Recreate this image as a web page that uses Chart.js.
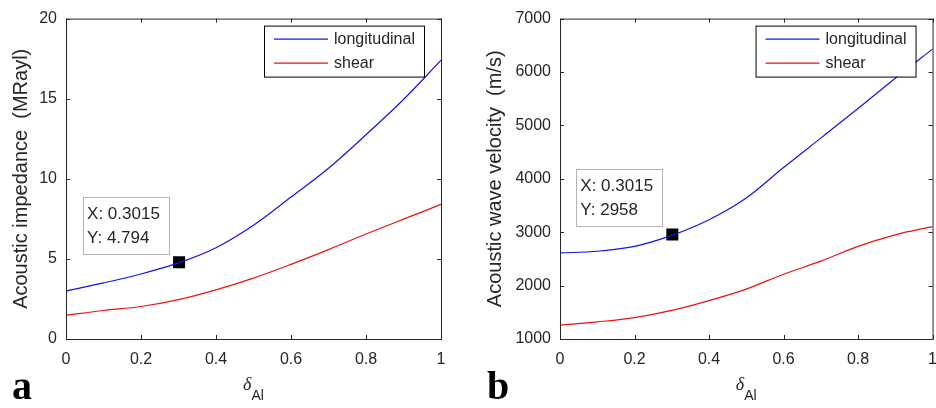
<!DOCTYPE html>
<html>
<head>
<meta charset="utf-8">
<script src="https://cdn.jsdelivr.net/npm/chart.js@4"></script>
<style>
  html, body { margin: 0; padding: 0; background: #fff; }
  body { width: 936px; height: 408px; position: relative; overflow: hidden; }
  canvas { position: absolute; top: 0; }
  .panel { position: absolute; top: 366px; font: bold 40px "Liberation Serif", "Times New Roman", serif; line-height: 40px; color: #000; }
</style>
</head>
<body>
<canvas id="impedanceChart" width="468" height="408" style="left:0"></canvas>
<canvas id="velocityChart" width="480" height="408" style="left:468px"></canvas>
<div class="panel" style="left:12px">a</div>
<div class="panel" style="left:487px">b</div>
<script>
const deltaAl = [0, 0.1, 0.2, 0.3, 0.4, 0.5, 0.6, 0.7, 0.8, 0.9, 1];
const impedanceLong = [3.0, 3.5, 4.06, 4.75, 5.7, 7.1, 8.86, 10.66, 12.75, 14.95, 17.4];
const impedanceShear = [1.48, 1.78, 2.03, 2.46, 3.07, 3.8, 4.66, 5.58, 6.55, 7.48, 8.4];
const velocityLong = [2612, 2643, 2735, 2940, 3234, 3640, 4210, 4762, 5318, 5884, 6428];
const velocityShear = [1258, 1320, 1400, 1535, 1720, 1935, 2212, 2458, 2735, 2951, 3105];

const xTicks = [0, 0.2, 0.4, 0.6, 0.8, 1];
const impedanceTicks = [0, 5, 10, 15, 20];
const velocityTicks = [1000, 2000, 3000, 4000, 5000, 6000, 7000];

const tipX = 0.3015;
const tipImpedance = 4.794;
const tipVelocity = 2958;

const textColor = '#262626';
const fontFamily = '"Liberation Sans", Arial, sans-serif';
const blue = 'rgb(20, 20, 230)';
const red = 'rgb(230, 20, 20)';

// box, inward ticks, legend, data tip and the delta_Al label
const matlabAxes = {
  id: 'matlabAxes',
  afterDraw(chart, args, opts) {
    const ctx = chart.ctx;
    const a = chart.chartArea;
    const xs = chart.scales.x, ys = chart.scales.y;
    ctx.save();

    ctx.strokeStyle = textColor;
    ctx.lineWidth = 1;
    ctx.strokeRect(a.left + 0.5, a.top + 0.5, a.right - a.left, a.bottom - a.top);
    ctx.beginPath();
    xs.ticks.forEach(t => {
      const px = Math.round(xs.getPixelForValue(t.value)) + 0.5;
      ctx.moveTo(px, a.bottom); ctx.lineTo(px, a.bottom - 4);
      ctx.moveTo(px, a.top); ctx.lineTo(px, a.top + 4);
    });
    ys.ticks.forEach(t => {
      const py = Math.round(ys.getPixelForValue(t.value)) + 0.5;
      ctx.moveTo(a.left, py); ctx.lineTo(a.left + 4, py);
      ctx.moveTo(a.right, py); ctx.lineTo(a.right - 4, py);
    });
    ctx.stroke();

    // legend
    const items = chart.data.datasets.filter(d => d.label);
    const bw = 160, bh = 51;
    const bx = a.right - 17 - bw, by = a.top + 7;
    ctx.fillStyle = '#fff';
    ctx.fillRect(bx, by, bw, bh);
    ctx.strokeStyle = '#000';
    ctx.strokeRect(bx + 0.5, by + 0.5, bw, bh);
    ctx.font = '16px ' + fontFamily;
    ctx.textBaseline = 'middle';
    ctx.textAlign = 'left';
    items.forEach((d, i) => {
      const ly = by + 13 + i * 24 + 0.5;
      ctx.strokeStyle = d.borderColor;
      ctx.lineWidth = 1.2;
      ctx.beginPath();
      ctx.moveTo(bx + 10, ly); ctx.lineTo(bx + 64, ly);
      ctx.stroke();
      ctx.fillStyle = textColor;
      ctx.fillText(d.label, bx + 70, ly);
    });

    // data tip
    const tip = opts.tip;
    const px = xs.getPixelForValue(tip.x), py = ys.getPixelForValue(tip.y);
    const tw = 86, th = 57;
    const tx = px - 10 - tw, ty = py - 8 - th;
    ctx.fillStyle = '#fff';
    ctx.fillRect(tx, ty, tw, th);
    ctx.strokeStyle = '#b4b4b4';
    ctx.lineWidth = 1;
    ctx.strokeRect(Math.round(tx) + 0.5, Math.round(ty) + 0.5, tw, th);
    ctx.fillStyle = textColor;
    ctx.font = '17px ' + fontFamily;
    ctx.fillText('X: ' + tip.x, tx + 4, ty + 17);
    ctx.fillText('Y: ' + tip.y, tx + 4, ty + 41);

    // x axis label: delta with subscript Al
    const cx = (a.left + a.right) / 2;
    ctx.font = 'italic 18px "Liberation Serif", "Times New Roman", serif';
    const dw = ctx.measureText('δ').width;
    ctx.font = '14px ' + fontFamily;
    const sw = ctx.measureText('Al').width;
    const sx = cx - (dw + sw) / 2;
    ctx.textBaseline = 'alphabetic';
    ctx.font = 'italic 18px "Liberation Serif", "Times New Roman", serif';
    ctx.fillText('δ', sx, 390);
    ctx.font = '14px ' + fontFamily;
    ctx.fillText('Al', sx + dw, 400);

    ctx.restore();
  }
};

function points(ys) {
  return deltaAl.map((x, i) => ({ x: x, y: ys[i] }));
}

function makeChart(id, longVals, shearVals, tipY, yTicks, yTitle, yWidth, titlePad, padRight) {
  return new Chart(document.getElementById(id), {
    type: 'line',
    data: {
      datasets: [
        {
          label: 'longitudinal',
          data: points(longVals),
          borderColor: blue,
          borderWidth: 1.2,
          pointRadius: 0,
          cubicInterpolationMode: 'monotone',
          fill: false
        },
        {
          label: 'shear',
          data: points(shearVals),
          borderColor: red,
          borderWidth: 1.2,
          pointRadius: 0,
          cubicInterpolationMode: 'monotone',
          fill: false
        },
        {
          data: [{ x: tipX, y: tipY }],
          showLine: false,
          pointStyle: 'rect',
          pointRadius: 8.5,
          pointBackgroundColor: '#000',
          pointBorderColor: '#000',
          pointBorderWidth: 0
        }
      ]
    },
    options: {
      responsive: false,
      animation: false,
      layout: { padding: { left: 0, top: 14, right: padRight, bottom: 0 } },
      plugins: {
        legend: { display: false },
        tooltip: { enabled: false },
        matlabAxes: { tip: { x: tipX, y: tipY } }
      },
      scales: {
        x: {
          type: 'linear',
          min: 0,
          max: 1,
          afterBuildTicks: s => { s.ticks = xTicks.map(v => ({ value: v })); },
          afterFit: s => { s.height = 69; },
          grid: { display: false, drawTicks: false },
          border: { display: false },
          ticks: {
            padding: 11,
            color: textColor,
            font: { size: 16, family: fontFamily },
            maxRotation: 0,
            callback: v => String(v)
          }
        },
        y: {
          min: yTicks[0],
          max: yTicks[yTicks.length - 1],
          afterBuildTicks: s => { s.ticks = yTicks.map(v => ({ value: v })); },
          afterFit: s => { s.width = yWidth; },
          grid: { display: false, drawTicks: false },
          border: { display: false },
          ticks: {
            padding: 9,
            color: textColor,
            font: { size: 16, family: fontFamily },
            callback: v => String(v)
          },
          title: {
            display: true,
            text: yTitle,
            color: textColor,
            font: { size: 20, family: fontFamily },
            padding: { top: titlePad, bottom: 0 }
          }
        }
      }
    },
    plugins: [matlabAxes]
  });
}

makeChart('impedanceChart', impedanceLong, impedanceShear, tipImpedance, impedanceTicks,
  'Acoustic impedance  (MRayl)', 66, 9, 27);
makeChart('velocityChart', velocityLong, velocityShear, tipVelocity, velocityTicks,
  'Acoustic wave velocity  (m/s)', 92, 15, 14);
</script>
</body>
</html>
